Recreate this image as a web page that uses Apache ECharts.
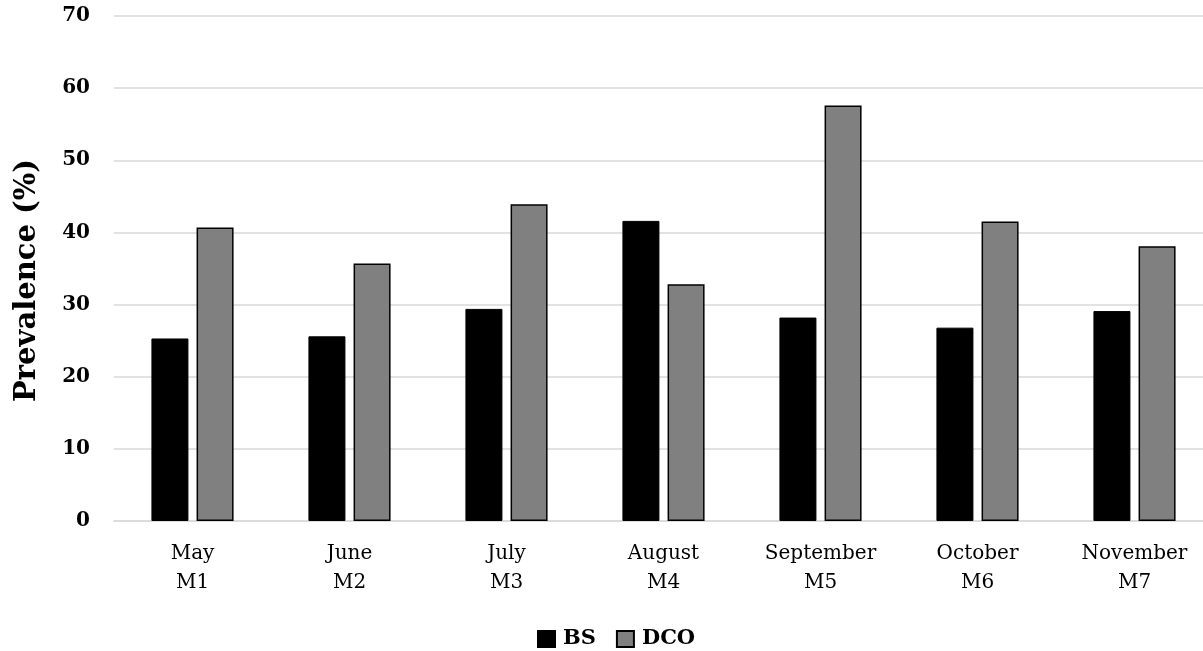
<!DOCTYPE html>
<html>
<head>
<meta charset="utf-8">
<script src="https://cdn.jsdelivr.net/npm/echarts@6/dist/echarts.min.js"></script>
<style>
  html, body { margin: 0; padding: 0; background: #fff; }
  #chart { width: 1203px; height: 651px; }
</style>
</head>
<body>
<div id="chart"></div>
<script>
// Monthly prevalence of BS and DCO, May through November
const months = ['May\nM1', 'June\nM2', 'July\nM3', 'August\nM4', 'September\nM5', 'October\nM6', 'November\nM7'];
const bsValues = [25.3, 25.6, 29.4, 41.6, 28.2, 26.8, 29.1];
const dcoValues = [40.7, 35.7, 43.9, 32.8, 57.6, 41.5, 38.1];
const yTicks = { min: 0, max: 70, interval: 10 };

const serif = '"DejaVu Serif", "Liberation Serif", serif';

const chart = echarts.init(document.getElementById('chart'), null, { renderer: 'canvas' });

chart.setOption({
  backgroundColor: '#ffffff',
  animation: false,
  textStyle: { fontFamily: serif, color: '#000' },
  grid: {
    left: 114,
    top: 16,
    width: 1099,
    height: 505,
    outerBoundsMode: 'none',
    containLabel: false
  },
  legend: {
    data: ['BS', 'DCO'],
    top: 627,
    left: 537,
    padding: 0,
    itemWidth: 17,
    itemHeight: 16,
    itemGap: 20,
    icon: 'rect',
    textStyle: {
      fontFamily: serif,
      fontWeight: 'bold',
      fontSize: 21,
      lineHeight: 24,
      color: '#000',
      padding: [0, 0, 0, 3]
    }
  },
  xAxis: {
    type: 'category',
    data: months,
    axisLine: { show: true, lineStyle: { color: '#d9d9d9', width: 1.5 } },
    axisTick: { show: false },
    axisLabel: {
      fontFamily: serif,
      fontSize: 20,
      lineHeight: 29,
      color: '#000',
      margin: 18,
      interval: 0
    }
  },
  yAxis: {
    type: 'value',
    min: yTicks.min,
    max: yTicks.max,
    interval: yTicks.interval,
    name: 'Prevalence (%)',
    nameLocation: 'middle',
    nameGap: 72,
    nameRotate: 90,
    nameTextStyle: {
      fontFamily: serif,
      fontWeight: 'bold',
      fontSize: 29,
      color: '#000',
      padding: [0, 24, 0, 0]
    },
    axisLine: { show: false },
    axisTick: { show: false },
    axisLabel: {
      fontFamily: serif,
      fontWeight: 'bold',
      fontSize: 20,
      color: '#000',
      margin: 24
    },
    splitLine: { show: true, lineStyle: { color: '#d9d9d9', width: 1.5 } }
  },
  series: [
    {
      name: 'BS',
      type: 'bar',
      data: bsValues,
      barWidth: 37,
      barGap: '22%',
      itemStyle: { color: '#000000', borderColor: '#000000', borderWidth: 1 }
    },
    {
      name: 'DCO',
      type: 'bar',
      data: dcoValues,
      barWidth: 37,
      itemStyle: { color: '#808080', borderColor: '#000000', borderWidth: 1.5 }
    }
  ]
});
</script>
</body>
</html>
